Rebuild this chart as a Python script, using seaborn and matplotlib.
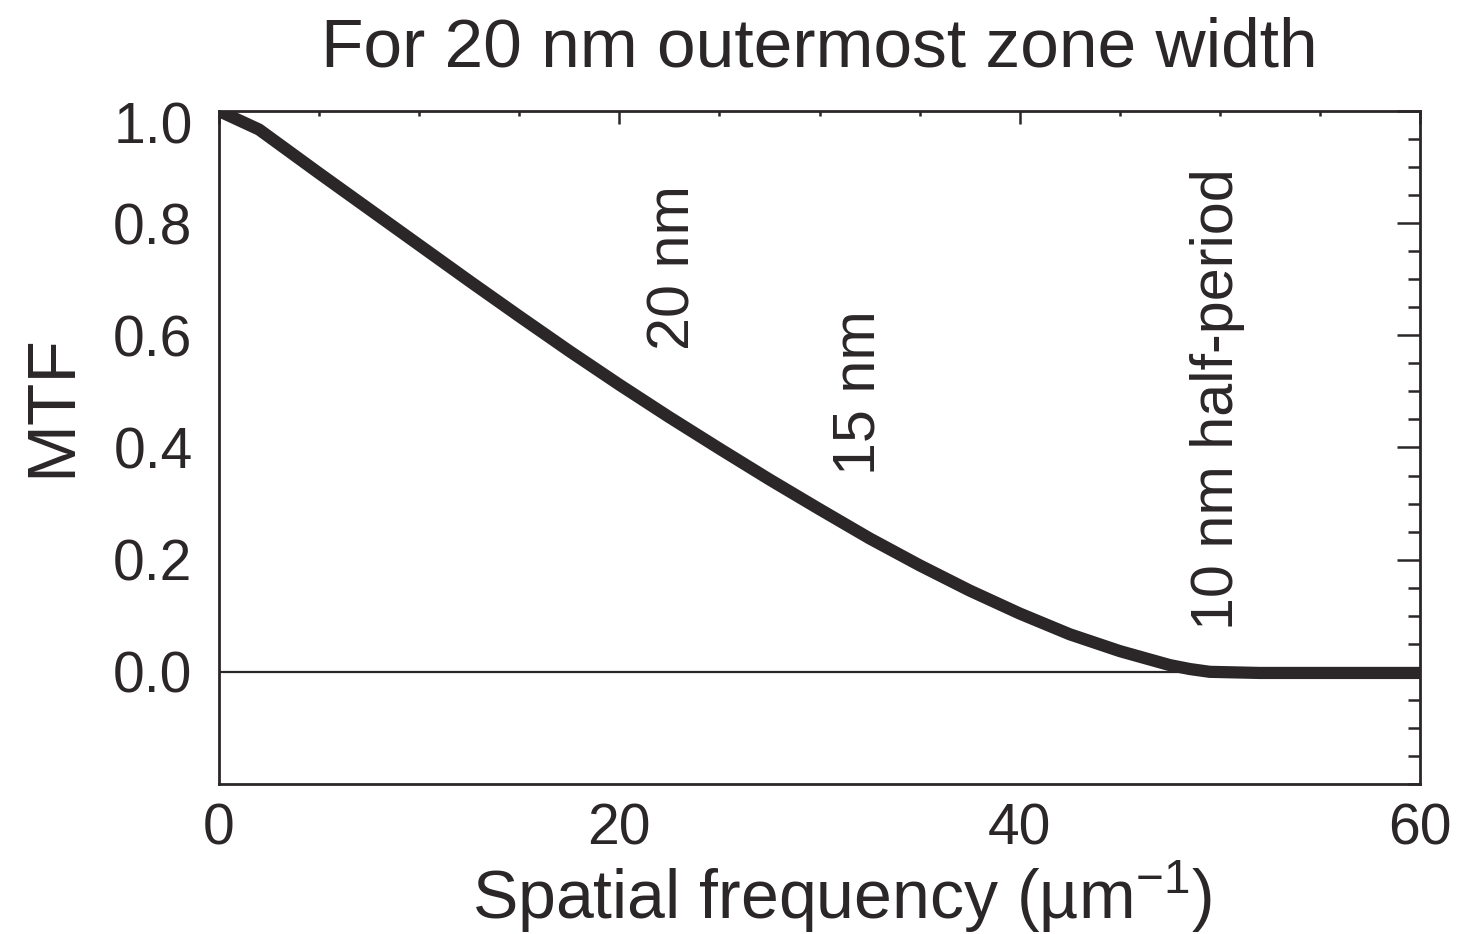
import numpy as np
import pandas as pd
import matplotlib
matplotlib.use("Agg")
import matplotlib.pyplot as plt
import matplotlib.transforms as mtransforms
from matplotlib.ticker import MultipleLocator
import seaborn as sns

# ---- data ----
freq = [0, 2, 5, 7.5, 10, 12.5, 15, 17.5, 20, 22.5, 25, 27.5, 30, 32.5, 35,
        37.5, 40, 42.5, 45, 47.5, 48.5, 49.5, 52, 60]
mtf = [1.0, 0.967, 0.889, 0.825, 0.761, 0.697, 0.634, 0.572, 0.512, 0.454,
       0.398, 0.343, 0.290, 0.238, 0.190, 0.145, 0.104, 0.067, 0.037, 0.012,
       0.005, 0.0, -0.002, -0.002]

x_ticks = [0, 20, 40, 60]
y_ticks = [0.0, 0.2, 0.4, 0.6, 0.8, 1.0]

annotations = [
    ("20 nm", 22.75, 0.72),
    ("15 nm", 31.95, 0.497),
    ("10 nm half-period", 49.9, 0.486),
]

title = "For 20 nm outermost zone width"
xlabel = "Spatial frequency (\u00b5m$^{\\mathregular{-1}}$)"
ylabel = "MTF"

# ---- style ----
sns.set_style("white")
plt.rcParams["font.family"] = ["Liberation Sans", "DejaVu Sans"]
plt.rcParams["mathtext.fontset"] = "custom"
plt.rcParams["mathtext.rm"] = "Liberation Sans"
plt.rcParams["mathtext.it"] = "Liberation Sans:italic"
plt.rcParams["mathtext.bf"] = "Liberation Sans:bold"

INK = "#2b2728"
W, H = 1474, 934

df = pd.DataFrame({"freq": freq, "mtf": mtf})

fig = plt.figure(figsize=(W / 100, H / 100), dpi=100)
ax = fig.add_axes([219 / W, 150 / H, 1201 / W, 673 / H])

ax.axhline(0, color=INK, lw=1.6, zorder=2)
sns.lineplot(data=df, x="freq", y="mtf", ax=ax, color=INK, linewidth=8.8,
             zorder=3, solid_capstyle="butt", solid_joinstyle="round")

ax.set_xlim(0, 60)
ax.set_ylim(-0.2, 1.0)
ax.set_xticks(x_ticks)
ax.set_yticks(y_ticks)
ax.yaxis.set_major_formatter("{x:.1f}")
ax.xaxis.set_minor_locator(MultipleLocator(5))
ax.yaxis.set_minor_locator(MultipleLocator(0.05))

ax.tick_params(axis="both", which="both", direction="in", color=INK,
               labelcolor=INK, width=1.8, labelsize=41)
ax.tick_params(axis="x", which="major", length=9.4, top=True, pad=13)
ax.tick_params(axis="x", which="minor", length=3.8, top=True)
ax.tick_params(axis="y", which="major", length=16.5, right=True, pad=19)
ax.tick_params(axis="y", which="minor", length=8.6, right=True)
for s in ax.spines.values():
    s.set_linewidth(2)
    s.set_color(INK)

ax.set_title(title, fontsize=50, color=INK, pad=32)
ax.set_xlabel(xlabel, fontsize=49, color=INK)
ax.set_ylabel(ylabel, fontsize=50, color=INK)
ax.xaxis.set_label_coords(0.519, -0.111)
ax.yaxis.set_label_coords(-0.112, 0.563)

for txt, x, y in annotations:
    ax.text(x, y, txt, rotation=90, ha="center", va="center",
            fontsize=42.7, color=INK, zorder=4)

fig.canvas.draw()
for lbl in ax.get_yticklabels():
    if lbl.get_text() == "1.0":
        lbl.set_transform(lbl.get_transform() +
                          mtransforms.ScaledTranslation(0, -11 / 100, fig.dpi_scale_trans))

fig.savefig("out.png", dpi=100, facecolor="white")
